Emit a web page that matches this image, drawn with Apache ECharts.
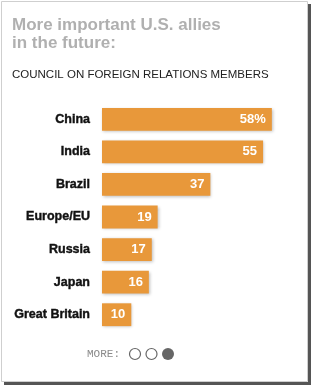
<!DOCTYPE html>
<html>
<head>
<meta charset="utf-8">
<script src="https://cdn.jsdelivr.net/npm/echarts@6/dist/echarts.min.js"></script>
<style>
  html, body { margin: 0; padding: 0; background: #fff; }
  #chart { width: 312px; height: 385px; }
</style>
</head>
<body>
<div id="chart"></div>
<script>
const countries = ['China', 'India', 'Brazil', 'Europe/EU', 'Russia', 'Japan', 'Great Britain']
const shares = [58, 55, 37, 19, 17, 16, 10]

const barColor = '#e8983a'

const option = {
  animation: false,
  title: [
    {
      text: 'More important U.S. allies\nin the future:',
      left: 12,
      top: 16,
      padding: 0,
      textStyle: {
        fontFamily: 'Liberation Sans',
        fontSize: 17,
        fontWeight: 'bold',
        color: '#b0b0b0',
        lineHeight: 18
      }
    },
    {
      text: 'COUNCIL ON FOREIGN RELATIONS MEMBERS',
      left: 12,
      top: 69,
      padding: 0,
      textStyle: {
        fontFamily: 'Liberation Sans',
        fontSize: 11.5,
        fontWeight: 'normal',
        color: '#222'
      }
    }
  ],
  grid: {
    left: 102,
    right: 5,
    top: 103,
    bottom: 385 - 331
  },
  xAxis: {
    type: 'value',
    min: 0,
    max: 70,
    show: false
  },
  yAxis: {
    type: 'category',
    data: countries,
    inverse: true,
    axisLine: { show: false },
    axisTick: { show: false },
    axisLabel: {
      margin: 12,
      fontFamily: 'Liberation Sans',
      fontSize: 12.5,
      fontWeight: 'bold',
      color: '#111',
      textBorderColor: '#111',
      textBorderWidth: 0.4
    }
  },
  series: [
    {
      type: 'bar',
      data: shares,
      barWidth: '70%',
      itemStyle: {
        color: barColor,
        shadowColor: 'rgba(0,0,0,0.25)',
        shadowBlur: 3,
        shadowOffsetX: 1,
        shadowOffsetY: 1
      },
      label: {
        show: true,
        position: 'insideRight',
        distance: 6,
        fontFamily: 'Liberation Sans',
        fontSize: 13,
        fontWeight: 'bold',
        color: '#fff',
        formatter: p => p.dataIndex === 0 ? p.value + '%' : String(p.value)
      }
    }
  ],
  graphic: [
    // panel frame and drop shadow
    { type: 'rect', z: -10, shape: { x: 308, y: 4, width: 3, height: 381 }, style: { fill: '#555' } },
    { type: 'rect', z: -10, shape: { x: 4, y: 382, width: 307, height: 3 }, style: { fill: '#555' } },
    { type: 'rect', z: -9, shape: { x: 1.5, y: 1.5, width: 306, height: 380 }, style: { fill: '#fff', stroke: '#cfcfcf', lineWidth: 1 } },
    // pager
    {
      type: 'text', x: 87, y: 354,
      style: { text: 'MORE:', fontFamily: 'Liberation Mono', fontSize: 11, fill: '#8a8a8a', verticalAlign: 'middle' }
    },
    { type: 'circle', shape: { cx: 135, cy: 354, r: 5.5 }, style: { fill: '#fff', stroke: '#666', lineWidth: 1.2 } },
    { type: 'circle', shape: { cx: 151.5, cy: 354, r: 5.5 }, style: { fill: '#fff', stroke: '#666', lineWidth: 1.2 } },
    { type: 'circle', shape: { cx: 168, cy: 354, r: 6 }, style: { fill: '#666' } }
  ]
}

const chart = echarts.init(document.getElementById('chart'), null, { renderer: 'canvas' })
chart.setOption(option)
</script>
</body>
</html>
